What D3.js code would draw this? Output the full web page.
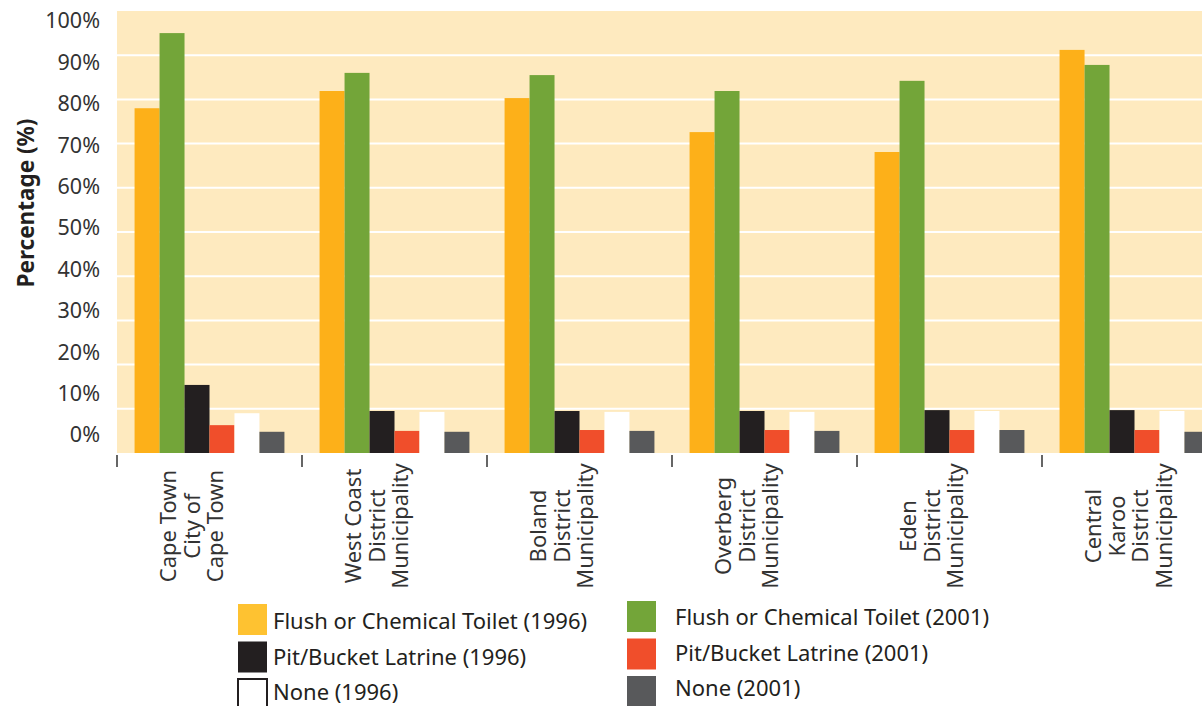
<!DOCTYPE html>
<html>
<head>
<meta charset="utf-8">
<script src="https://cdn.jsdelivr.net/npm/d3@7"></script>
<style>
  body { margin: 0; background: #fff; }
  svg { display: block; font-family: "Noto Sans", Lato, sans-serif; }
</style>
</head>
<body>
<svg></svg>
<script>
let regions = ["Cape Town", "West Coast", "Boland", "Overberg", "Eden", "Central Karoo"];
let regionLines = [
    ["Cape Town", "City of", "Cape Town"],
    ["West Coast", "District", "Municipality"],
    ["Boland", "District", "Municipality"],
    ["Overberg", "District", "Municipality"],
    ["Eden", "District", "Municipality"],
    ["Central", "Karoo", "District", "Municipality"]
];

let series = ["flush1996", "flush2001", "pit1996", "pit2001", "none1996", "none2001"];
let seriesNames = [
    "Flush or Chemical Toilet (1996)",
    "Flush or Chemical Toilet (2001)",
    "Pit/Bucket Latrine (1996)",
    "Pit/Bucket Latrine (2001)",
    "None (1996)",
    "None (2001)"
];

let flush1996 = [78.0, 81.9, 80.3, 72.6, 68.1, 91.2];
let flush2001 = [95.0, 86.0, 85.5, 81.9, 84.2, 87.8];
let pit1996   = [15.4, 9.5, 9.5, 9.5, 9.7, 9.7];
let pit2001   = [6.3, 5.0, 5.2, 5.2, 5.2, 5.2];
let none1996  = [9.0, 9.3, 9.3, 9.3, 9.5, 9.5];
let none2001  = [4.8, 4.8, 5.0, 5.0, 5.2, 4.8];

let yTicks = [0, 10, 20, 30, 40, 50, 60, 70, 80, 90, 100];

let colors = ["#FDB019", "#73A539", "#231F20", "#F04E2B", "#FFFFFF", "#58595B"];
let legendColors = ["#FEC231", "#73A539", "#231F20", "#F04E2B", "#FFFFFF", "#58595B"];

let width = 1202;
let height = 706;

let svg = d3.select("svg")
    .attr("width", width)
    .attr("height", height);

let values = [flush1996, flush2001, pit1996, pit2001, none1996, none2001];
let data = regions.map((r, i) => {
    let row = { region: r };
    series.forEach((s, j) => row[s] = values[j][i]);
    return row;
});

let plotLeft = 117;
let plotTop = 11;
let plotBottom = 453;
let step = 185;

let x0 = d3.scaleBand()
    .domain(regions)
    .range([plotLeft, plotLeft + step * regions.length])
    .paddingInner(0.19)
    .paddingOuter(0.095);

let x1 = d3.scaleBand()
    .domain(series)
    .range([0, x0.bandwidth()]);

let y = d3.scaleLinear()
    .domain([0, 100])
    .range([plotBottom, plotTop]);

// tick labels in the original sit slightly off the gridlines
let yLabel = d3.scaleLinear()
    .domain([0, 100])
    .range([435, 21]);

let color = d3.scaleOrdinal().domain(series).range(colors);

// background
svg.append("rect")
    .attr("x", plotLeft)
    .attr("y", plotTop)
    .attr("width", width - plotLeft)
    .attr("height", plotBottom - plotTop)
    .attr("fill", "#FEEABF");

// gridlines
svg.append("g")
    .selectAll("line")
    .data(yTicks.slice(1, -1))
    .enter()
    .append("line")
    .attr("x1", plotLeft)
    .attr("x2", width)
    .attr("y1", d => y(d))
    .attr("y2", d => y(d))
    .attr("stroke", "#fff")
    .attr("stroke-width", 2);

// bars
svg.append("g")
    .selectAll("g")
    .data(data)
    .enter()
    .append("g")
    .attr("transform", d => `translate(${x0(d.region)},0)`)
    .selectAll("rect")
    .data(d => series.map(s => ({ key: s, value: d[s] })))
    .enter()
    .append("rect")
    .attr("x", d => x1(d.key))
    .attr("y", d => y(d.value))
    .attr("width", x1.bandwidth())
    .attr("height", d => y(0) - y(d.value))
    .attr("fill", d => color(d.key));

// y axis labels
let yAxis = d3.axisLeft(yLabel)
    .tickValues(yTicks)
    .tickSize(0)
    .tickPadding(0)
    .tickFormat(d => d + "%");

let yg = svg.append("g")
    .attr("transform", "translate(100,0)")
    .call(yAxis);
yg.select(".domain").remove();
yg.selectAll("text")
    .attr("font-size", 21.5)
    .attr("font-family", "'Noto Sans', Lato, sans-serif")
    .attr("fill", "#333");

svg.append("text")
    .attr("transform", "translate(25,203) rotate(-90)")
    .attr("text-anchor", "middle")
    .attr("dominant-baseline", "central")
    .attr("font-size", 22.5)
    .attr("font-weight", "bold")
    .attr("fill", "#231F20")
    .text("Percentage (%)");

// x axis ticks at group boundaries
svg.append("g")
    .selectAll("line")
    .data(regions)
    .enter()
    .append("line")
    .attr("x1", (d, i) => plotLeft + i * x0.step())
    .attr("x2", (d, i) => plotLeft + i * x0.step())
    .attr("y1", 455)
    .attr("y2", 467)
    .attr("stroke", "#333")
    .attr("stroke-width", 1.5);

// x labels, rotated
let labels = svg.append("g")
    .selectAll("g")
    .data(regions)
    .enter()
    .append("g")
    .attr("transform", (d, i) => `translate(${plotLeft + i * x0.step() + 50},526) rotate(-90)`);

labels.each(function (d, i) {
    let t = d3.select(this).append("text")
        .attr("text-anchor", "middle")
        .attr("font-size", 22)
        .attr("fill", "#333");
    t.selectAll("tspan")
        .data(regionLines[i])
        .enter()
        .append("tspan")
        .attr("x", 0)
        .attr("y", (l, k) => k * 23.5)
        .attr("dominant-baseline", "central")
        .text(l => l);
});

// legend
let legendOrder = [0, 2, 4, 1, 3, 5];
let legend = svg.append("g");
legendOrder.forEach((idx, k) => {
    let col = Math.floor(k / 3);
    let row = k % 3;
    let sx = col === 0 ? 238 : 627;
    let sy = (col === 0 ? 604 : 601) + row * 37.5;
    legend.append("rect")
        .attr("x", sx)
        .attr("y", sy)
        .attr("width", 29)
        .attr("height", 31)
        .attr("fill", legendColors[idx])
        .attr("stroke", idx === 4 ? "#231F20" : "none")
        .attr("stroke-width", 2);
    legend.append("text")
        .attr("x", col === 0 ? 273 : 675)
        .attr("y", (col === 0 ? 620 : 616) + row * 35.5)
        .attr("dominant-baseline", "central")
        .attr("font-size", 22)
        .attr("fill", "#231F20")
        .text(seriesNames[idx]);
});
</script>
</body>
</html>
